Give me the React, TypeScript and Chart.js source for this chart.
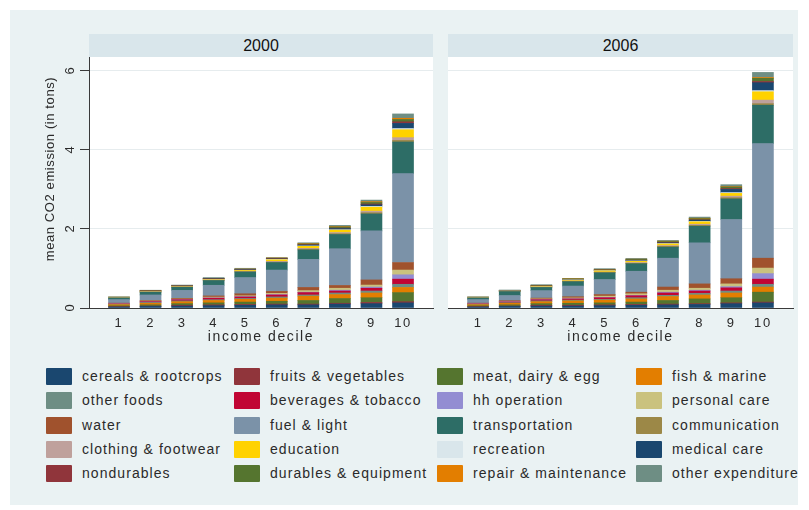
import React, { useEffect, useRef } from "react";
import { Chart, registerables } from "chart.js";
Chart.register(...registerables);

const FONT = '"Liberation Sans", Arial, Helvetica, sans-serif';

const deciles = ["1", "2", "3", "4", "5", "6", "7", "8", "9", "10"];
const yTicks = [0, 2, 4, 6];
const yTitle = "mean CO2 emission (in tons)";
const xTitle = "income decile";

const categoryNames = [
  "cereals & rootcrops", "fruits & vegetables", "meat, dairy & egg", "fish & marine",
  "other foods", "beverages & tobacco", "hh operation", "personal care",
  "water", "fuel & light", "transportation", "communication",
  "clothing & footwear", "education", "recreation", "medical care",
  "nondurables", "durables & equipment", "repair & maintenance", "other expenditure",
];
const categoryColors = [
  "#1a476f", "#90353b", "#55752f", "#e37e00",
  "#6e8e84", "#c10534", "#938dd2", "#cac27e",
  "#a0522d", "#7b92a8", "#2d6d66", "#9c8847",
  "#bfa19c", "#ffd200", "#d9e6eb", "#1a476f",
  "#90353b", "#55752f", "#e37e00", "#6e8e84",
];

// ---- year 2000 (mean tons CO2 per income decile 1..10) ----
const cereals_2000 = [0.025, 0.04, 0.05, 0.06, 0.07, 0.08, 0.08, 0.10, 0.11, 0.13];
const fruits_2000 = [0.01, 0.01, 0.02, 0.02, 0.02, 0.02, 0.02, 0.02, 0.03, 0.03];
const meat_2000 = [0.02, 0.03, 0.04, 0.05, 0.06, 0.07, 0.09, 0.12, 0.12, 0.23];
const fish_2000 = [0.03, 0.04, 0.05, 0.06, 0.07, 0.08, 0.11, 0.10, 0.12, 0.13];
const otherFoods_2000 = [0.01, 0.02, 0.02, 0.02, 0.02, 0.03, 0.03, 0.04, 0.05, 0.08];
const beverages_2000 = [0.01, 0.02, 0.03, 0.04, 0.04, 0.05, 0.06, 0.05, 0.07, 0.13];
const hhOperation_2000 = [0.003, 0.005, 0.005, 0.005, 0.01, 0.01, 0.01, 0.02, 0.03, 0.11];
const personalCare_2000 = [0.005, 0.01, 0.01, 0.02, 0.02, 0.03, 0.04, 0.05, 0.05, 0.12];
const water_2000 = [0.01, 0.015, 0.02, 0.03, 0.05, 0.05, 0.08, 0.07, 0.13, 0.19];
const fuel_2000 = [0.09, 0.14, 0.20, 0.27, 0.41, 0.54, 0.71, 0.93, 1.24, 2.25];
const transport_2000 = [0.04, 0.07, 0.08, 0.12, 0.14, 0.19, 0.24, 0.36, 0.43, 0.80];
const communication_2000 = [0.003, 0.005, 0.005, 0.005, 0.01, 0.01, 0.02, 0.02, 0.03, 0.04];
const clothing_2000 = [0.003, 0.005, 0.005, 0.01, 0.01, 0.02, 0.02, 0.03, 0.04, 0.07];
const education_2000 = [0.003, 0.005, 0.01, 0.01, 0.02, 0.04, 0.05, 0.06, 0.10, 0.20];
const recreation_2000 = [0.002, 0.005, 0.005, 0.005, 0.005, 0.01, 0.01, 0.01, 0.02, 0.03];
const medical_2000 = [0.003, 0.005, 0.005, 0.01, 0.01, 0.01, 0.02, 0.03, 0.04, 0.13];
const nondurables_2000 = [0.002, 0.005, 0.005, 0.005, 0.005, 0.01, 0.01, 0.01, 0.02, 0.04];
const durables_2000 = [0.003, 0.005, 0.005, 0.005, 0.01, 0.01, 0.02, 0.03, 0.04, 0.06];
const repair_2000 = [0.002, 0.005, 0.005, 0.005, 0.005, 0.005, 0.01, 0.01, 0.02, 0.03];
const otherExp_2000 = [0.01, 0.01, 0.01, 0.02, 0.02, 0.01, 0.02, 0.03, 0.04, 0.11];

// ---- year 2006 ----
const cereals_2006 = [0.025, 0.04, 0.05, 0.05, 0.06, 0.07, 0.08, 0.09, 0.11, 0.13];
const fruits_2006 = [0.01, 0.01, 0.02, 0.02, 0.02, 0.02, 0.02, 0.02, 0.02, 0.02];
const meat_2006 = [0.02, 0.03, 0.04, 0.05, 0.05, 0.06, 0.09, 0.12, 0.13, 0.25];
const fish_2006 = [0.03, 0.04, 0.05, 0.06, 0.07, 0.08, 0.10, 0.10, 0.12, 0.13];
const otherFoods_2006 = [0.01, 0.015, 0.02, 0.02, 0.02, 0.03, 0.03, 0.04, 0.05, 0.07];
const beverages_2006 = [0.01, 0.02, 0.03, 0.03, 0.04, 0.05, 0.06, 0.06, 0.08, 0.13];
const hhOperation_2006 = [0.003, 0.005, 0.005, 0.005, 0.01, 0.01, 0.02, 0.02, 0.03, 0.14];
const personalCare_2006 = [0.005, 0.01, 0.015, 0.02, 0.03, 0.04, 0.05, 0.05, 0.07, 0.14];
const water_2006 = [0.01, 0.015, 0.02, 0.03, 0.04, 0.04, 0.08, 0.11, 0.13, 0.25];
const fuel_2006 = [0.09, 0.13, 0.19, 0.27, 0.38, 0.53, 0.73, 1.04, 1.50, 2.90];
const transport_2006 = [0.04, 0.10, 0.08, 0.11, 0.17, 0.19, 0.28, 0.42, 0.52, 0.97];
const communication_2006 = [0.003, 0.003, 0.005, 0.01, 0.01, 0.01, 0.02, 0.02, 0.03, 0.04];
const clothing_2006 = [0.003, 0.003, 0.005, 0.01, 0.01, 0.02, 0.02, 0.03, 0.04, 0.09];
const education_2006 = [0.003, 0.005, 0.01, 0.02, 0.03, 0.03, 0.04, 0.06, 0.07, 0.21];
const recreation_2006 = [0.002, 0.003, 0.005, 0.005, 0.005, 0.01, 0.01, 0.01, 0.02, 0.03];
const medical_2006 = [0.003, 0.005, 0.005, 0.01, 0.01, 0.01, 0.02, 0.03, 0.08, 0.20];
const nondurables_2006 = [0.002, 0.003, 0.005, 0.005, 0.005, 0.01, 0.01, 0.01, 0.02, 0.03];
const durables_2006 = [0.003, 0.005, 0.01, 0.01, 0.01, 0.02, 0.02, 0.03, 0.04, 0.08];
const repair_2006 = [0.002, 0.003, 0.005, 0.005, 0.005, 0.005, 0.01, 0.01, 0.01, 0.02];
const otherExp_2006 = [0.01, 0.01, 0.02, 0.01, 0.02, 0.02, 0.02, 0.03, 0.05, 0.13];

const series2000 = [
  cereals_2000, fruits_2000, meat_2000, fish_2000, otherFoods_2000, beverages_2000,
  hhOperation_2000, personalCare_2000, water_2000, fuel_2000, transport_2000,
  communication_2000, clothing_2000, education_2000, recreation_2000, medical_2000,
  nondurables_2000, durables_2000, repair_2000, otherExp_2000,
];
const series2006 = [
  cereals_2006, fruits_2006, meat_2006, fish_2006, otherFoods_2006, beverages_2006,
  hhOperation_2006, personalCare_2006, water_2006, fuel_2006, transport_2006,
  communication_2006, clothing_2006, education_2006, recreation_2006, medical_2006,
  nondurables_2006, durables_2006, repair_2006, otherExp_2006,
];

const BG = "#eaf2f3";
const STRIP = "#d9e6eb";
const TEXT = "#2a2a2a";
const AXIS = "#3a3a3a";

type PanelProps = {
  year: string;
  series: number[][];
  canvasLeft: number;
  canvasWidth: number;
  padLeft: number;
  padRight: number;
  yAxisWidth: number;
  showYAxis: boolean;
};

const CANVAS_TOP = 50;
const CANVAS_H = 300;
const PAD_TOP = 7;

function Panel(p: PanelProps) {
  const ref = useRef<HTMLCanvasElement>(null);
  useEffect(() => {
    const canvas = ref.current!;
    const bgPlugin = {
      id: "plotbg",
      beforeDraw(chart: any) {
        const { ctx, chartArea } = chart;
        ctx.save();
        ctx.fillStyle = "#ffffff";
        ctx.fillRect(chartArea.left, chartArea.top, chartArea.right - chartArea.left, chartArea.bottom - chartArea.top);
        ctx.restore();
        ctx.letterSpacing = "1.6px";
      },
    };
    const yLabelPlugin = {
      id: "ylabels",
      afterDraw(chart: any) {
        if (!p.showYAxis) return;
        const { ctx } = chart;
        const ys = chart.scales.y;
        ctx.save();
        ctx.fillStyle = TEXT;
        ctx.textAlign = "center";
        ctx.textBaseline = "middle";
        ctx.font = `13px ${FONT}`;
        ctx.letterSpacing = "0px";
        for (const v of yTicks) {
          const py = ys.getPixelForValue(v);
          ctx.save();
          ctx.translate(ys.right - 19, py);
          ctx.rotate(-Math.PI / 2);
          ctx.fillText(String(v), 0, 0);
          ctx.restore();
        }
        ctx.save();
        ctx.letterSpacing = "0.6px";
        ctx.translate(ys.right - 39, 169 - CANVAS_TOP);
        ctx.rotate(-Math.PI / 2);
        ctx.fillText(yTitle, 0, 0);
        ctx.restore();
        ctx.restore();
      },
    };
    const chart = new Chart(canvas, {
      type: "bar",
      data: {
        datasets: categoryNames.map((name, i) => ({
          label: name,
          data: p.series[i].map((v, j) => ({ x: j + 1, y: v })),
          backgroundColor: categoryColors[i],
          borderWidth: 0,
          barThickness: 21,
        })),
      },
      options: {
        responsive: false,
        animation: false,
        events: [],
        layout: { padding: { top: PAD_TOP, right: p.padRight, left: p.padLeft, bottom: 0 } },
        plugins: { legend: { display: false }, tooltip: { enabled: false }, title: { display: false } },
        scales: {
          x: {
            type: "linear",
            stacked: true,
            offset: false,
            min: 0.05,
            max: 10.95,
            afterBuildTicks: (axis: any) => {
              axis.ticks = deciles.map((_, i) => ({ value: i + 1 }));
            },
            afterFit: (axis: any) => {
              axis.height = 42;
            },
            ticks: {
              callback: (v: any) => deciles[Math.round(Number(v)) - 1] ?? "",
              font: { family: FONT, size: 13 },
              color: TEXT,
              padding: 8,
              autoSkip: false,
              maxRotation: 0,
              minRotation: 0,
            },
            grid: { display: false, drawTicks: false, offset: false },
            border: { display: true, color: AXIS, width: 1 },
            title: {
              display: true,
              text: xTitle,
              font: { family: FONT, size: 14 },
              color: TEXT,
              padding: { top: 0, bottom: 4 },
            },
          },
          y: {
            stacked: true,
            min: 0,
            max: 6.35,
            afterBuildTicks: (axis: any) => {
              axis.ticks = yTicks.map((v) => ({ value: v }));
            },
            afterFit: (axis: any) => {
              axis.width = p.yAxisWidth;
            },
            ticks: { display: false },
            grid: {
              color: "#e6ecee",
              lineWidth: 1,
              drawTicks: p.showYAxis,
              tickLength: 9,
              tickColor: AXIS,
            },
            border: { display: p.showYAxis, color: AXIS, width: 1 },
          },
        },
      } as any,
      plugins: [bgPlugin, yLabelPlugin],
    });
    return () => chart.destroy();
  }, []);

  const plotLeft = p.canvasLeft + p.padLeft + p.yAxisWidth;
  const plotRight = p.canvasLeft + p.canvasWidth - p.padRight;
  return (
    <>
      <div
        style={{
          position: "absolute",
          left: plotLeft,
          top: 34,
          width: plotRight - plotLeft,
          height: CANVAS_TOP + PAD_TOP - 34,
          background: STRIP,
          color: "#111",
          font: `16px ${FONT}`,
          lineHeight: `${CANVAS_TOP + PAD_TOP - 34}px`,
          textAlign: "center",
        }}
      >
        {p.year}
      </div>
      <canvas
        ref={ref}
        width={p.canvasWidth}
        height={CANVAS_H}
        style={{ position: "absolute", left: p.canvasLeft, top: CANVAS_TOP, width: p.canvasWidth, height: CANVAS_H }}
      />
    </>
  );
}

const legendCols = [46, 234, 437, 636];
const legendRowTop = 368;
const legendRowStep = 24.3;

function Legend() {
  return (
    <>
      {categoryNames.map((name, i) => {
        const col = i % 4;
        const row = Math.floor(i / 4);
        const top = legendRowTop + row * legendRowStep;
        return (
          <div key={name} style={{ position: "absolute", left: legendCols[col], top, height: 17, display: "flex", alignItems: "center" }}>
            <div style={{ width: 26, height: 17, background: categoryColors[i], borderRadius: 1 }} />
            <div
              style={{
                marginLeft: 10,
                font: `14px ${FONT}`,
                letterSpacing: "1.05px",
                color: TEXT,
                whiteSpace: "nowrap",
                lineHeight: "17px",
              }}
            >
              {name}
            </div>
          </div>
        );
      })}
    </>
  );
}

export default function App() {
  return (
    <div style={{ position: "absolute", left: 0, top: 0, width: 809, height: 510, background: "#ffffff", overflow: "hidden" }}>
      <div style={{ position: "absolute", left: 10, top: 10, width: 788, height: 495, background: BG }} />
      <Panel year="2000" series={series2000} canvasLeft={10} canvasWidth={430} padLeft={0} padRight={7} yAxisWidth={79} showYAxis={true} />
      <Panel year="2006" series={series2006} canvasLeft={440} canvasWidth={360} padLeft={8} padRight={7} yAxisWidth={0} showYAxis={false} />
      <Legend />
    </div>
  );
}
